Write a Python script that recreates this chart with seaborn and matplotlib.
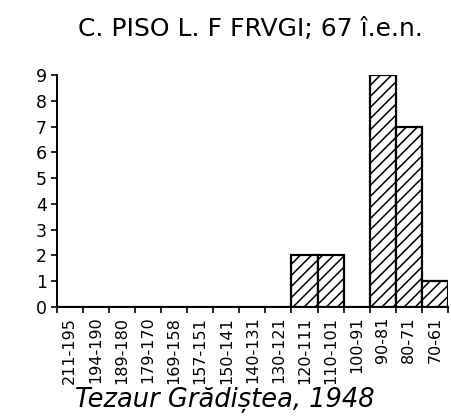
import numpy as np
import pandas as pd
import matplotlib
matplotlib.use("Agg")
import matplotlib.pyplot as plt
import seaborn as sns

# valori
intervale = ['211-195', '194-190', '189-180', '179-170', '169-158', '157-151',
             '150-141', '140-131', '130-121', '120-111', '110-101', '100-91',
             '90-81', '80-71', '70-61']
numar = [0, 0, 0, 0, 0, 0, 0, 0, 0, 2, 2, 0, 9, 7, 1]
y_ticks = list(range(0, 10))

titlu = 'C. PISO L. F FRVGI; 67 î.e.n.'
legenda = 'Tezaur Grădiștea, 1948'

sns.set_style('ticks')
plt.rcParams['font.family'] = ['DejaVu Sans']
plt.rcParams['hatch.linewidth'] = 1.1
for k in ['text.color', 'axes.labelcolor', 'xtick.color', 'ytick.color', 'axes.edgecolor']:
    plt.rcParams[k] = 'black'

df = pd.DataFrame({'interval': intervale, 'n': numar})

fig = plt.figure(figsize=(4.51, 4.18), dpi=100)
ax = fig.add_axes([0.126, 0.2656, 0.867, 0.555])

sns.barplot(data=df, x='interval', y='n', order=intervale, color='white',
            edgecolor='black', linewidth=1.6, hatch='///', width=1.0,
            saturation=1, ax=ax)

ax.set_xlim(-0.5, len(intervale) - 0.5)
ax.set_ylim(0, 9)
ax.set_yticks(y_ticks)
ax.set_xticks(np.arange(-0.5, len(intervale), 1), minor=True)
ax.set_xticks(range(len(intervale)))
ax.set_xticklabels(intervale, rotation=90, fontsize=11.5)
ax.tick_params(axis='x', which='major', length=0, pad=7)
ax.tick_params(axis='x', which='minor', length=4, width=1.2, direction='out')
ax.tick_params(axis='y', length=4, width=1.2, labelsize=12.5, pad=3)
ax.set_xlabel('')
ax.set_ylabel('')
for s in ['top', 'right']:
    ax.spines[s].set_visible(False)
for s in ['left', 'bottom']:
    ax.spines[s].set_linewidth(1.4)

fig.text(250 / 451, 1 - 29 / 418, titlu, ha='center', va='center', fontsize=18)
fig.text(75 / 451, 1 - 400 / 418, legenda, ha='left', va='center',
         fontsize=18.5, style='italic')

fig.savefig('out.png', dpi=100)
